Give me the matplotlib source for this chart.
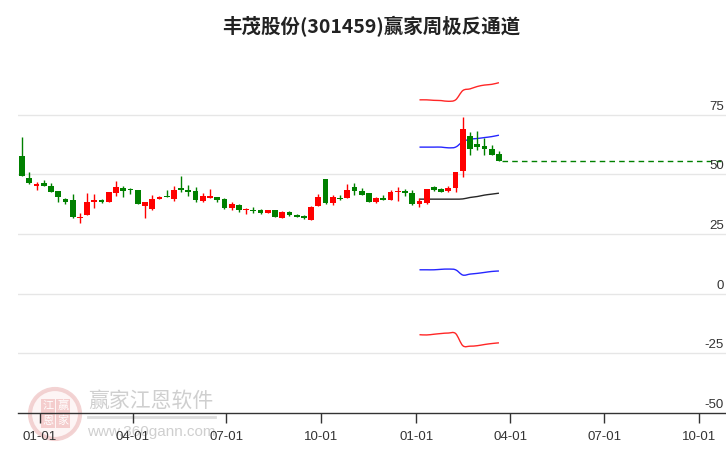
import matplotlib
matplotlib.use("Agg")
import matplotlib.pyplot as plt
import matplotlib.dates as mdates
import matplotlib.patches as mpatches
from matplotlib.path import Path
import pandas as pd
import numpy as np

# ---------------- data ----------------
start_date = "2022-12-15"
opens = [57.7, 48.5, 45.3, 46.4, 45.2, 43.1, 39.7, 39.3, 31.8, 32.8,
         38.2, 39.3, 38.6, 42.0, 44.4, 43.7, 43.5, 36.9, 35.3, 39.5,
         41.0, 39.7, 44.4, 43.6, 43.1, 39.0, 40.2, 40.6, 39.7, 35.7,
         37.2, 34.9, 35.1, 35.1, 33.9, 35.1, 31.9, 34.3, 33.1, 32.6,
         31.0, 36.8, 48.1, 38.1, 40.0, 39.9, 44.8, 43.1, 42.3, 38.5,
         40.2, 39.3, 42.7, 43.1, 42.3, 37.7, 38.1, 44.8, 43.9, 43.2,
         44.1, 51.6, 66.1, 62.8, 61.9, 60.8, 58.6]
highs = [65.8, 50.8, 46.9, 47.7, 46.4, 43.2, 40.2, 41.8, 33.8, 42.3,
         41.8, 39.7, 42.8, 47.3, 45.2, 44.4, 43.6, 38.5, 41.4, 40.9,
         43.6, 45.3, 49.1, 45.6, 44.8, 42.3, 43.9, 40.6, 40.0, 38.5,
         37.7, 35.7, 36.4, 35.6, 35.1, 35.1, 34.7, 34.7, 33.5, 32.8,
         36.8, 41.7, 48.1, 41.4, 41.4, 46.0, 46.4, 44.4, 42.3, 40.6,
         41.4, 43.5, 44.8, 43.9, 43.5, 40.2, 43.9, 45.2, 44.4, 45.2,
         51.0, 73.9, 67.9, 68.2, 65.3, 62.3, 59.7]
lows = [49.1, 45.8, 43.6, 44.9, 42.4, 38.6, 37.5, 31.5, 29.4, 32.8,
        36.1, 37.8, 38.2, 41.1, 40.3, 41.8, 37.4, 31.9, 34.9, 39.5,
        40.3, 39.0, 42.4, 41.1, 38.5, 38.2, 40.2, 38.2, 35.3, 34.9,
        34.4, 33.5, 34.0, 33.3, 33.6, 32.2, 31.9, 32.6, 32.2, 31.4,
        31.0, 36.8, 37.7, 37.2, 39.3, 39.9, 41.5, 41.4, 38.4, 38.1,
        39.3, 39.3, 38.9, 41.0, 37.2, 36.4, 37.7, 43.2, 42.7, 42.8,
        42.8, 48.8, 58.3, 60.3, 57.9, 57.9, 55.4]
closes = [49.1, 46.2, 46.0, 44.9, 42.8, 40.3, 38.2, 32.3, 32.2, 38.5,
          39.3, 38.2, 42.7, 44.8, 43.1, 43.5, 37.4, 38.5, 39.7, 40.6,
          40.3, 43.5, 43.6, 42.7, 39.3, 41.0, 41.0, 39.3, 35.7, 37.4,
          34.9, 35.3, 34.7, 33.6, 35.1, 32.3, 34.3, 32.8, 32.3, 31.5,
          36.4, 40.6, 37.8, 40.6, 39.6, 43.5, 43.1, 41.5, 38.5, 40.2,
          39.3, 42.7, 43.1, 42.3, 37.4, 38.9, 43.9, 43.5, 42.8, 44.1,
          51.0, 69.0, 60.7, 61.6, 60.8, 58.3, 55.4]

# channel lines start at candle index 55 (0-based) and run to the last candle
channel_start = 55
upper_red = [81.2, 81.2, 81.0, 80.9, 80.6, 81.2, 85.1, 85.8, 86.8, 87.4, 87.7, 88.4]
upper_blue = [61.4, 61.4, 61.4, 61.4, 61.1, 61.4, 63.7, 64.7, 65.0, 65.4, 65.8, 66.4]
middle_black = [39.6, 39.6, 39.6, 39.6, 39.6, 39.6, 39.7, 40.3, 40.7, 41.3, 41.7, 42.1]
lower_blue = [10.0, 10.0, 10.0, 10.2, 10.3, 10.0, 7.8, 8.2, 8.5, 8.9, 9.3, 9.5]
lower_red = [-17.2, -17.3, -17.0, -16.7, -16.5, -16.7, -21.8, -22.0, -21.8, -21.3, -20.9, -20.6]

y_ticks = [75, 50, 25, 0, -25, -50]
x_tick_dates = ["2023-01-01", "2023-04-01", "2023-07-01", "2023-10-01",
                "2024-01-01", "2024-04-01", "2024-07-01", "2024-10-01"]
title = "丰茂股份(301459)赢家周极反通道"

# ---------------- figure ----------------
W, H = 726, 450
fig = plt.figure(figsize=(W / 100, H / 100), dpi=100)
fig.patch.set_facecolor("white")
ax = fig.add_axes([18 / W, 37 / H, 708 / W, 353 / H])
ax.patch.set_visible(False)

dates = pd.date_range(start_date, periods=len(opens), freq="7D")
xn = mdates.date2num(dates.to_pydatetime())

RED = "#ff0000"
GREEN = "#008000"
colors = [RED if c >= o else GREEN for o, c in zip(opens, closes)]

ax.vlines(xn, lows, highs, colors=colors, linewidth=1.0, zorder=3)
bottoms = [min(o, c) for o, c in zip(opens, closes)]
heights = [max(abs(c - o), 0.4) for o, c in zip(opens, closes)]
ax.bar(xn, heights, bottom=bottoms, width=5.6, color=colors,
       edgecolor=colors, linewidth=0, zorder=4)


def smooth_path(xs, ys):
    """Catmull-Rom style cubic Bezier path through the given points."""
    xs = np.asarray(xs, float)
    ys = np.asarray(ys, float)
    verts = [(xs[0], ys[0])]
    codes = [Path.MOVETO]
    n = len(xs)
    for i in range(n - 1):
        p0 = np.array([xs[max(i - 1, 0)], ys[max(i - 1, 0)]])
        p1 = np.array([xs[i], ys[i]])
        p2 = np.array([xs[i + 1], ys[i + 1]])
        p3 = np.array([xs[min(i + 2, n - 1)], ys[min(i + 2, n - 1)]])
        c1 = p1 + (p2 - p0) / 6.0
        c2 = p2 - (p3 - p1) / 6.0
        verts += [tuple(c1), tuple(c2), tuple(p2)]
        codes += [Path.CURVE4] * 3
    return Path(verts, codes)


cx = xn[channel_start:channel_start + len(upper_red)]
for series, col in [(upper_red, "red"), (upper_blue, "blue"),
                    (middle_black, "black"), (lower_blue, "blue"),
                    (lower_red, "red")]:
    patch = mpatches.PathPatch(smooth_path(cx, series), facecolor="none",
                               edgecolor=col, lw=1.0, alpha=0.85, zorder=2)
    ax.add_patch(patch)

# axis limits
x_left = mdates.date2num(pd.Timestamp("2022-12-11"))
x_right = x_left + 686
ax.set_xlim(x_left, x_right)
ax.set_ylim(-50, 97.9)

# dashed last-close line
ax.hlines(closes[-1], xn[-1] + 3, x_right - 5, colors=GREEN,
          linestyles=(0, (4, 3)), linewidth=1.0, zorder=2)

# gridlines + right-side labels
for v in y_ticks:
    if v != -50:
        ax.axhline(v, color="#e6e6e6", lw=1.0, zorder=0)
    ax.text(0.997, v + 0.8, str(v), transform=ax.get_yaxis_transform(),
            ha="right", va="bottom", fontsize=9.5, color="#333333",
            family="Liberation Sans")
ax.set_yticks([])

for s in ["left", "right", "top"]:
    ax.spines[s].set_visible(False)
ax.spines["bottom"].set_color("#333333")
ax.spines["bottom"].set_linewidth(1.0)

ax.set_xticks(mdates.date2num(pd.to_datetime(x_tick_dates).to_pydatetime()))
ax.xaxis.set_major_formatter(mdates.DateFormatter("%m-%d"))
ax.tick_params(axis="x", direction="out", length=7, width=1, color="#333333",
               pad=6, labelsize=9.5, labelcolor="#333333")
for lab in ax.get_xticklabels():
    lab.set_family("Liberation Sans")

# title
fig.text(371 / W, 1 - 27 / H, title, ha="center", va="center",
         fontsize=14, fontweight="bold", color="#222222",
         family=["Noto Sans CJK SC", "DejaVu Sans"])

# ---------------- watermark ----------------
def px(x, y):
    return (x / 100, (H - y) / 100)

circ = mpatches.Circle(px(55, 414), 25 / 100, transform=fig.dpi_scale_trans,
                       facecolor="#fdf3f3", edgecolor="#f0c8c8", lw=3,
                       zorder=-2, alpha=0.8)
fig.patches.append(circ)
for ch, (cxp, cyp) in zip("江赢恩家", [(48, 406), (63, 406), (48, 421), (63, 421)]):
    sq = mpatches.Rectangle(px(cxp - 7, cyp + 7), 14 / 100, 14 / 100,
                            transform=fig.dpi_scale_trans,
                            facecolor="#f2c4c4", edgecolor="none", zorder=-1,
                            alpha=0.8)
    fig.patches.append(sq)
    fig.text(cxp / W, 1 - cyp / H, ch, ha="center", va="center", fontsize=8,
             color="white", family=["Noto Sans CJK SC"], zorder=-1)

fig.text(151 / W, 1 - 401 / H, "赢家江恩软件", ha="center", va="center",
         fontsize=15, color="#cfcfcf", family=["Noto Sans CJK SC"], zorder=-1)
fig.lines.append(plt.Line2D([88 / W, 215 / W], [1 - 417 / H, 1 - 417 / H],
                            transform=fig.transFigure, color="#dddddd",
                            lw=2, zorder=-1))
fig.text(151 / W, 1 - 432 / H, "www.360gann.com", ha="center", va="center",
         fontsize=11, color="#cfcfcf", family="Liberation Sans", zorder=-1)

fig.savefig("out.png", dpi=100, facecolor="white")
